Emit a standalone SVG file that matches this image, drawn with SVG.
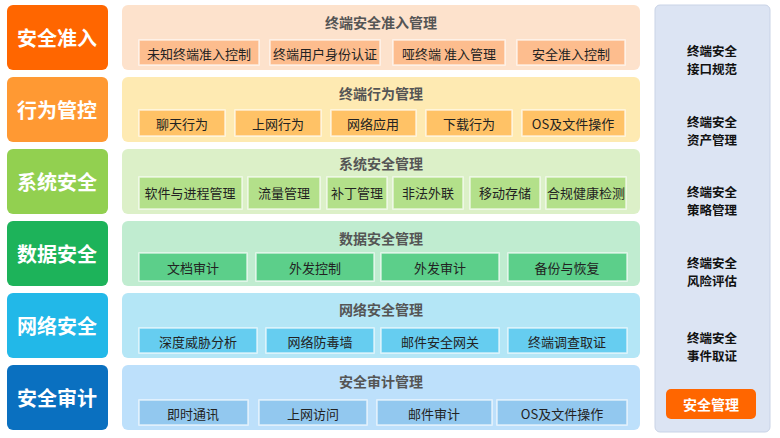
<svg xmlns="http://www.w3.org/2000/svg" width="780" height="438" viewBox="0 0 780 438">
<style>
text{font-family:"Noto Sans CJK SC","Liberation Sans",sans-serif;text-anchor:middle;dominant-baseline:central}
.lt{font-size:20px;font-weight:bold;fill:#fff}
.pt{font-size:14px;font-weight:bold;fill:#555}
.it{font-size:13px;fill:#222}
.rt{font-size:12.5px;font-weight:bold;fill:#111}
.ib{stroke:#fff;stroke-opacity:.7;stroke-width:1.5}
</style>
<rect width="780" height="438" fill="#fff"/>
<g id="row1">
<rect x="7" y="5" width="101" height="65" rx="6" fill="#ff6600"/><text class="lt" x="57" y="37">安全准入</text>
<rect x="122" y="5" width="518" height="65" rx="6" fill="#fde2cc"/><text class="pt" x="381" y="22">终端安全准入管理</text>
<rect class="ib" x="139" y="40" width="120" height="25" fill="#fdbd8e"/><text class="it" x="199" y="53">未知终端准入控制</text>
<rect class="ib" x="270" y="40" width="110" height="25" fill="#fdbd8e"/><text class="it" x="325" y="53">终端用户身份认证</text>
<rect class="ib" x="393" y="40" width="112" height="25" fill="#fdbd8e"/><text class="it" x="449" y="53">哑终端  准入管理</text>
<rect class="ib" x="517" y="40" width="108" height="25" fill="#fdbd8e"/><text class="it" x="571" y="53">安全准入控制</text>
</g>
<g id="row2">
<rect x="7" y="77" width="101" height="65" rx="6" fill="#ff9933"/><text class="lt" x="57" y="109">行为管控</text>
<rect x="122" y="77" width="518" height="65" rx="6" fill="#feeab2"/><text class="pt" x="381" y="93">终端行为管理</text>
<rect class="ib" x="139" y="110" width="86" height="26" fill="#ffc266"/><text class="it" x="182" y="123">聊天行为</text>
<rect class="ib" x="235" y="110" width="86" height="26" fill="#ffc266"/><text class="it" x="278" y="123">上网行为</text>
<rect class="ib" x="331" y="110" width="85" height="26" fill="#ffc266"/><text class="it" x="373" y="123">网络应用</text>
<rect class="ib" x="426" y="110" width="86" height="26" fill="#ffc266"/><text class="it" x="469" y="123">下载行为</text>
<rect class="ib" x="522" y="110" width="103" height="26" fill="#ffc266"/><text class="it" x="573" y="123">OS及文件操作</text>
</g>
<g id="row3">
<rect x="7" y="149" width="101" height="65" rx="6" fill="#92d050"/><text class="lt" x="57" y="181">系统安全</text>
<rect x="122" y="149" width="518" height="65" rx="6" fill="#dcf0c8"/><text class="pt" x="381" y="163">系统安全管理</text>
<rect class="ib" x="139" y="177" width="103" height="32" fill="#b3e08a"/><text class="it" x="190" y="192">软件与进程管理</text>
<rect class="ib" x="248" y="177" width="72" height="32" fill="#b3e08a"/><text class="it" x="284" y="192">流量管理</text>
<rect class="ib" x="327" y="177" width="60" height="32" fill="#b3e08a"/><text class="it" x="357" y="192">补丁管理</text>
<rect class="ib" x="393" y="177" width="70" height="32" fill="#b3e08a"/><text class="it" x="428" y="192">非法外联</text>
<rect class="ib" x="470" y="177" width="70" height="32" fill="#b3e08a"/><text class="it" x="505" y="192">移动存储</text>
<rect class="ib" x="546" y="177" width="80" height="32" fill="#b3e08a"/><text class="it" x="586" y="192">合规健康检测</text>
</g>
<g id="row4">
<rect x="7" y="221" width="101" height="65" rx="6" fill="#1db35a"/><text class="lt" x="57" y="253">数据安全</text>
<rect x="122" y="221" width="518" height="65" rx="6" fill="#c0ecd0"/><text class="pt" x="381" y="238">数据安全管理</text>
<rect class="ib" x="139" y="253" width="108" height="28" fill="#5ccf8a"/><text class="it" x="193" y="267">文档审计</text>
<rect class="ib" x="256" y="253" width="118" height="28" fill="#5ccf8a"/><text class="it" x="315" y="267">外发控制</text>
<rect class="ib" x="381" y="253" width="118" height="28" fill="#5ccf8a"/><text class="it" x="440" y="267">外发审计</text>
<rect class="ib" x="508" y="253" width="119" height="28" fill="#5ccf8a"/><text class="it" x="567" y="267">备份与恢复</text>
</g>
<g id="row5">
<rect x="7" y="293" width="101" height="65" rx="6" fill="#22b8e8"/><text class="lt" x="57" y="325">网络安全</text>
<rect x="122" y="293" width="518" height="65" rx="6" fill="#b4e6f6"/><text class="pt" x="381" y="309">网络安全管理</text>
<rect class="ib" x="139" y="328" width="118" height="25" fill="#66cdf0"/><text class="it" x="198" y="341">深度威胁分析</text>
<rect class="ib" x="266" y="328" width="108" height="25" fill="#66cdf0"/><text class="it" x="320" y="341">网络防毒墙</text>
<rect class="ib" x="381" y="328" width="118" height="25" fill="#66cdf0"/><text class="it" x="440" y="341">邮件安全网关</text>
<rect class="ib" x="508" y="328" width="119" height="25" fill="#66cdf0"/><text class="it" x="567" y="341">终端调查取证</text>
</g>
<g id="row6">
<rect x="7" y="365" width="101" height="65" rx="6" fill="#0a70c0"/><text class="lt" x="57" y="397">安全审计</text>
<rect x="122" y="365" width="518" height="65" rx="6" fill="#bde0fb"/><text class="pt" x="381" y="381">安全审计管理</text>
<rect class="ib" x="139" y="400" width="109" height="25" fill="#92c8ef"/><text class="it" x="193" y="413">即时通讯</text>
<rect class="ib" x="259" y="400" width="108" height="25" fill="#92c8ef"/><text class="it" x="313" y="413">上网访问</text>
<rect class="ib" x="377" y="400" width="115" height="25" fill="#92c8ef"/><text class="it" x="434" y="413">邮件审计</text>
<rect class="ib" x="497" y="400" width="130" height="25" fill="#92c8ef"/><text class="it" x="562" y="413">OS及文件操作</text>
</g>
<g id="mgmt">
<rect x="655" y="5" width="115" height="427" rx="5" fill="#dce4f3" stroke="#c9d3e6"/>
<text class="rt" x="712" y="50">终端安全</text><text class="rt" x="712" y="68">接口规范</text>
<text class="rt" x="712" y="121">终端安全</text><text class="rt" x="712" y="139">资产管理</text>
<text class="rt" x="712" y="191">终端安全</text><text class="rt" x="712" y="209">策略管理</text>
<text class="rt" x="712" y="262">终端安全</text><text class="rt" x="712" y="280">风险评估</text>
<text class="rt" x="712" y="337">终端安全</text><text class="rt" x="712" y="355">事件取证</text>
<rect x="666" y="389" width="90" height="30" rx="5" fill="#ff6600"/><text x="711" y="404" style="font-size:14px;font-weight:bold;fill:#fff">安全管理</text>
</g>
<g id="connectors"/>
</svg>
